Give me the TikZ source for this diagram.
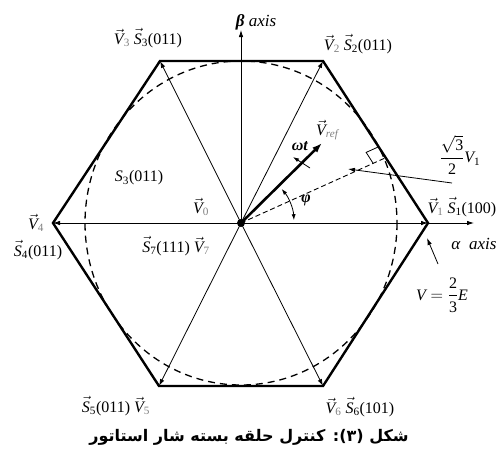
\documentclass[tikz,border=0pt]{standalone}
\usepackage{amsmath}
\usepackage{fontspec}
\setmainfont{Liberation Serif}
\newfontfamily\arabicfont[Script=Arabic]{DejaVu Sans}
\TeXXeTstate=1
\usetikzlibrary{arrows.meta,calc}
\newcommand\Vv[1]{$\vec{\textit{V}}_{\textcolor{gray}{\text{#1}}}$}
\newcommand\Sv[1]{$\vec{\textit{S}}_{\text{#1}}$}
\tikzset{
  lbl/.style={inner sep=0pt,font=\fontsize{16}{18}\selectfont},
  axlbl/.style={inner sep=0pt,font=\fontsize{17}{19}\selectfont},
  thinarrow/.style={line width=0.8pt,-{Latex[length=7pt,width=4.5pt]}},
  hexline/.style={line width=2.4pt},
  circline/.style={line width=1.3pt,dash pattern=on 7pt off 5pt},
  dashline/.style={line width=0.9pt,dash pattern=on 5pt off 3pt},
}
\begin{document}
\begin{tikzpicture}[x=1pt,y=-1pt]
\useasboundingbox (0,0) rectangle (497,456);
% key points
\coordinate (O) at (241,223);
\coordinate (P1) at (428,223);
\coordinate (P2) at (323,61);
\coordinate (P3) at (160,61);
\coordinate (P4) at (53,223);
\coordinate (P5) at (159,386);
\coordinate (P6) at (323,386);
\coordinate (A) at (474,223);
\coordinate (B) at (241,30);
\coordinate (M) at (385,158);
\coordinate (R) at (322,143);
% dashed circle
\draw[circline] (O) ellipse [x radius=156, y radius=162];
% hexagon
\draw[hexline] (P1) -- (P2) -- (P3) -- (P4) -- (P5) -- (P6) -- cycle;
% vectors to vertices
\foreach \p in {P1,P2,P3,P4,P5,P6} \draw[thinarrow] (O) -- (\p);
\draw[thinarrow] (P1) -- (A);
\draw[thinarrow] (O) -- (B);
% dashed perpendicular line
\draw[dashline] (O) -- (M);
% right angle marker
\coordinate (Q1) at ($(M)!13pt!(P2)$);
\coordinate (Q3) at ($(M)!13pt!(O)$);
\draw[line width=0.8pt] (Q1) -- ($(Q1)+(Q3)-(M)$) -- (Q3);
% Vref
\draw[line width=2.6pt,-{Latex[length=10pt,width=7pt]}] (O) -- (R);
% omega t arrow
\coordinate (W1) at (310,168);
\coordinate (W2) at (293,157);
\draw[line width=0.8pt,-{Latex[length=6pt,width=4pt]}] (W1) -- (W2);
% phi arc
\draw[line width=0.8pt,{Latex[length=6pt,width=4pt]}-{Latex[length=6pt,width=4pt]}] ($(O)+(40:53 and -53)$) arc [start angle=-40,end angle=-3,radius=53];
% center dot
\fill (O) circle (4pt);
% label arrows
\coordinate (L1) at (452,183);
\coordinate (L1t) at (348,169);
\draw[thinarrow] (L1) -- (L1t);
\coordinate (L2) at (438,264);
\coordinate (L2t) at (427,238);
\draw[thinarrow] (L2) -- (L2t);
% labels
\node[axlbl] (tbeta) at (256,22) {\textbf{\textit{β}}\ \textit{axis}};
\node[lbl] (t3) at (148,38) {\Vv{3} \Sv{3}(011)};
\node[lbl] (t2) at (358,44) {\Vv{2} \Sv{2}(011)};
\node[lbl] (tfrac) at (460,155) {$\dfrac{\sqrt{\text{3}}}{\text{2}}\textit{V}_{\text{1}}$};
\node[lbl] (t1) at (462,207) {\Vv{1}\ \Sv{1}(100)};
\node[axlbl] (talpha) at (474,244) {\textit{α}\ \ \textit{axis}};
\node[lbl] (tE) at (442,295) {$\textit{V}=\dfrac{\text{2}}{\text{3}}\textit{E}$};
\node[lbl] (t4) at (36,223) {\Vv{4}};
\node[lbl] (ts4) at (38,250) {\Sv{4}(011)};
\node[lbl] (ts3) at (139,178) {$\textit{S}_{\text{3}}$(011)};
\node[lbl] (t0) at (201,207) {\Vv{0}};
\node[lbl] (t7) at (176,246) {\Sv{7}(111)\ \Vv{7}};
\node[lbl] (t5) at (116,406) {\Sv{5}(011)\ \Vv{5}};
\node[lbl] (t6) at (360,407) {\Vv{6}\ \Sv{6}(101)};
\node[lbl] (tref) at (328,130) {\Vv{\textit{ref}}};
\node[lbl] (tw) at (300,146) {\textbf{\textit{ωt}}};
\node[lbl] (tphi) at (306,200) {\textbf{\textit{φ}}};
\node[inner sep=0pt] (cap) at (249,437) {\arabicfont\bfseries\fontsize{16}{19}\selectfont\beginR شکل (۳): کنترل حلقه بسته شار استاتور\endR};
\end{tikzpicture}
\end{document}
